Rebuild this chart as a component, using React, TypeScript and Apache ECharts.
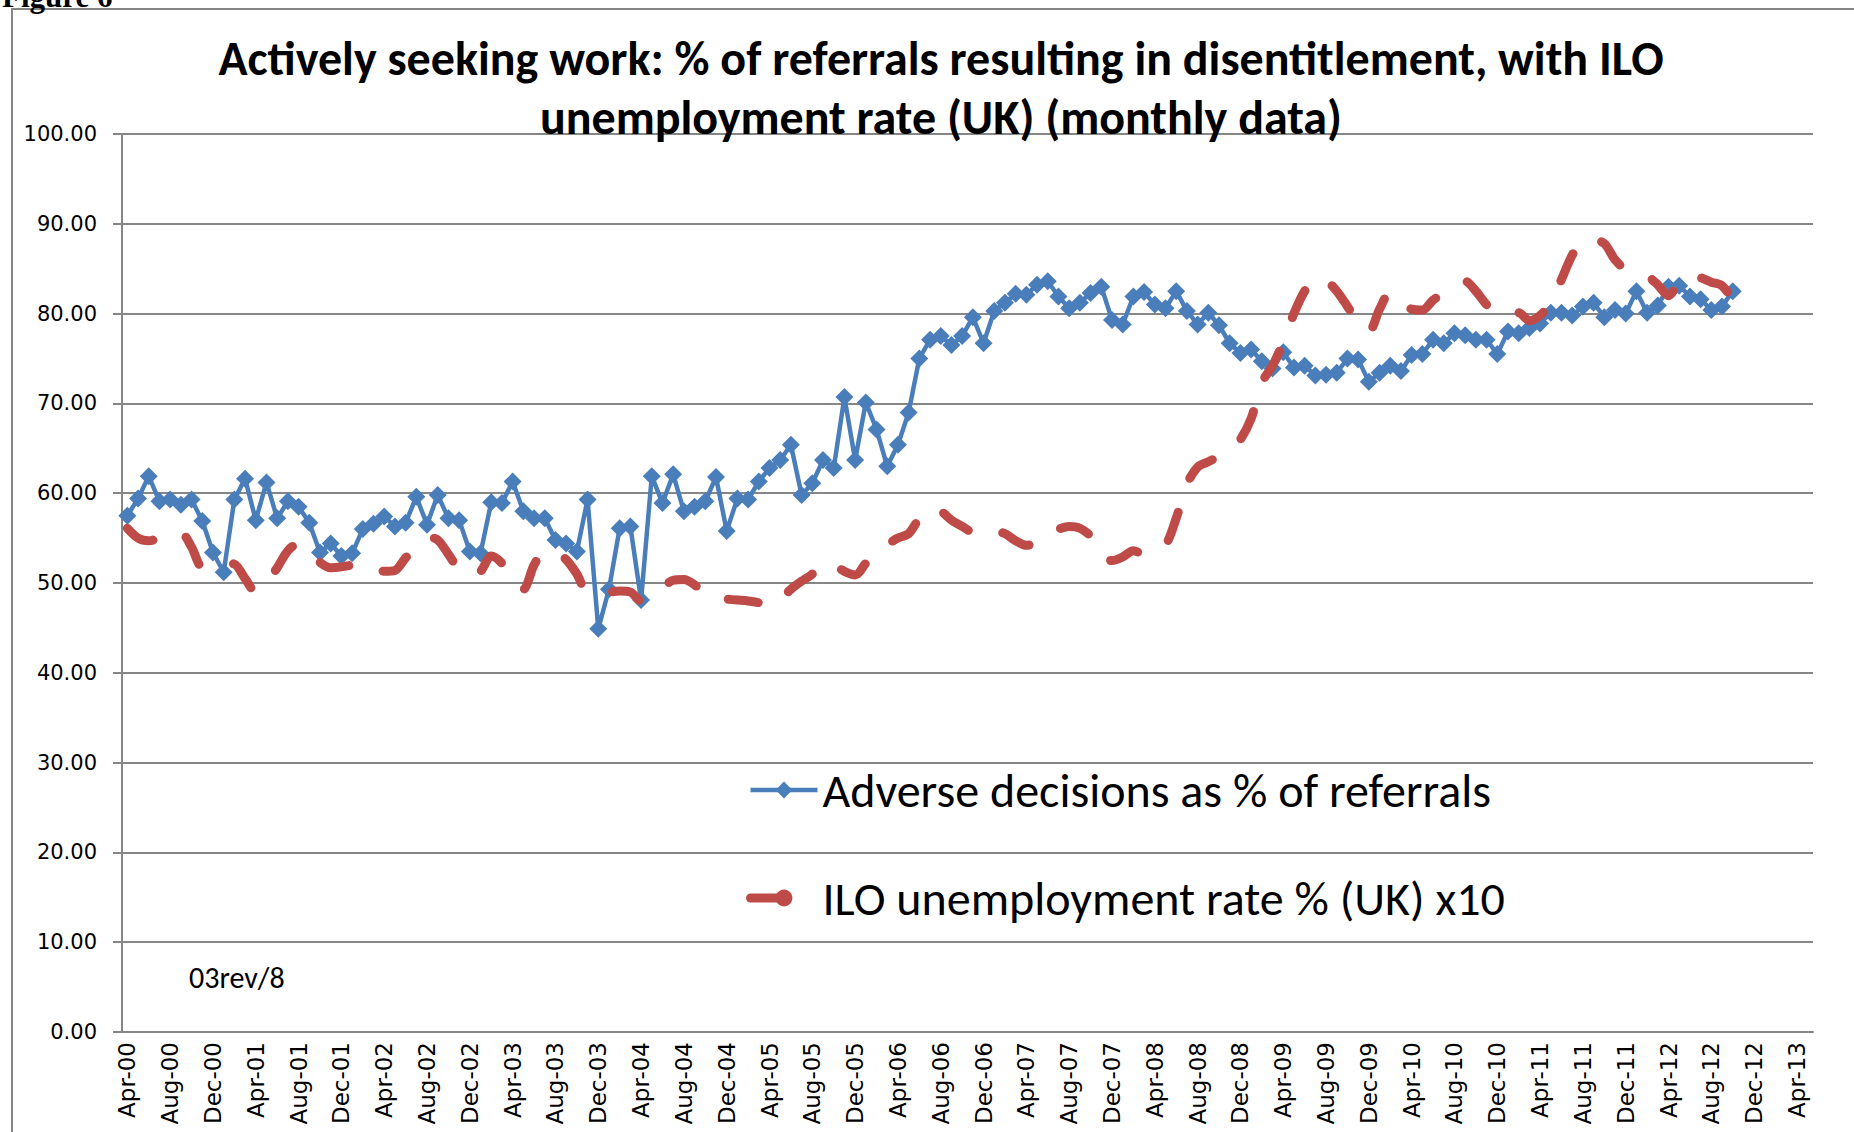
import React, { useEffect, useRef } from "react";
import * as echarts from "echarts";

// ---- Data ----
const MONTH_NAMES = ["Jan", "Feb", "Mar", "Apr", "May", "Jun", "Jul", "Aug", "Sep", "Oct", "Nov", "Dec"];
const CATEGORY_COUNT = 158; // Apr-00 .. May-13
const categories: string[] = [];
for (let k = 0; k < CATEGORY_COUNT; k++) {
  const m = (3 + k) % 12;
  const y = Math.floor((3 + k) / 12);
  categories.push(`${MONTH_NAMES[m]}-${String(y).padStart(2, "0")}`);
}

// Adverse decisions as % of referrals, Apr-00 .. Oct-12
const adverse2000_01 = [57.5, 59.4, 61.9, 59.1, 59.3, 58.7, 59.3, 56.9, 53.4, 51.2, 59.3, 61.6];
const adverse2001_02 = [57.0, 61.2, 57.2, 59.1, 58.5, 56.7, 53.4, 54.4, 53.0, 53.3, 56.0, 56.6];
const adverse2002_03 = [57.4, 56.3, 56.7, 59.6, 56.5, 59.8, 57.2, 57.0, 53.5, 53.3, 59.0, 58.9];
const adverse2003_04 = [61.3, 58.0, 57.2, 57.2, 54.8, 54.4, 53.5, 59.3, 44.9, 49.3, 56.1, 56.3];
const adverse2004_05 = [48.1, 61.9, 58.9, 62.1, 58.0, 58.5, 59.1, 61.8, 55.8, 59.4, 59.3, 61.3];
const adverse2005_06 = [62.8, 63.7, 65.4, 59.8, 61.1, 63.7, 62.8, 70.7, 63.7, 70.1, 67.1, 63.0];
const adverse2006_07 = [65.4, 69.0, 75.0, 77.1, 77.5, 76.5, 77.5, 79.6, 76.7, 80.3, 81.2, 82.2];
const adverse2007_08 = [82.1, 83.2, 83.6, 81.9, 80.6, 81.2, 82.3, 83.0, 79.3, 78.8, 81.9, 82.4];
const adverse2008_09 = [81.0, 80.6, 82.5, 80.3, 78.8, 80.1, 78.7, 76.7, 75.6, 76.0, 74.7, 73.9];
const adverse2009_10 = [75.7, 74.0, 74.2, 73.1, 73.2, 73.4, 75.0, 74.9, 72.4, 73.4, 74.2, 73.6];
const adverse2010_11 = [75.4, 75.5, 77.1, 76.7, 77.8, 77.6, 77.1, 77.1, 75.5, 78.0, 77.8, 78.4];
const adverse2011_12 = [78.9, 80.1, 80.1, 79.8, 80.8, 81.2, 79.6, 80.4, 80.0, 82.5, 80.1, 80.9];
const adverse2012 = [83.0, 83.1, 81.9, 81.6, 80.4, 80.8, 82.5];

// ILO unemployment rate % (UK) x10, Apr-00 .. Nov-12
const ilo2000_01 = [56.1, 55.0, 54.7, 55.0, 55.4, 55.6, 54.0, 51.8, 51.8, 52.2, 52.1, 50.5];
const ilo2001_02 = [49.0, 50.0, 51.7, 53.6, 54.4, 53.5, 52.3, 51.7, 51.8, 52.0, 52.2, 51.8];
const ilo2002_03 = [51.3, 51.4, 52.8, 54.0, 55.1, 54.8, 53.2, 51.5, 50.8, 51.3, 53.0, 52.2];
const ilo2003_04 = [50.5, 49.3, 52.0, 53.5, 53.5, 52.6, 51.0, 49.0, 49.0, 49.0, 49.1, 49.0];
const ilo2004_05 = [48.0, 48.5, 49.5, 50.3, 50.4, 49.8, 48.7, 48.3, 48.2, 48.1, 48.0, 47.8];
const ilo2005_06 = [47.4, 48.2, 49.3, 50.2, 51.0, 52.3, 52.0, 51.3, 50.9, 52.2, 53.5, 54.3];
const ilo2006_07 = [55.0, 55.5, 57.2, 58.3, 58.0, 57.0, 56.3, 55.6, 55.3, 55.7, 55.5, 54.7];
const ilo2007_08 = [54.2, 54.5, 55.5, 56.0, 56.3, 56.1, 55.2, 53.0, 52.5, 52.9, 53.6, 53.2];
const ilo2008_09 = [53.5, 54.2, 57.2, 61.0, 62.9, 63.5, 64.1, 64.8, 66.0, 68.3, 72.3, 74.2];
const ilo2009_10 = [76.8, 80.0, 82.5, 84.0, 83.7, 82.5, 80.8, 79.0, 78.0, 80.5, 82.4, 81.3];
const ilo2010_11 = [80.5, 80.4, 81.5, 82.3, 83.0, 83.6, 82.5, 81.0, 80.0, 80.0, 80.1, 79.2];
const ilo2011_12 = [79.8, 81.2, 83.8, 86.5, 88.2, 88.2, 87.8, 86.0, 84.9, 84.5, 84.2, 83.2];
const ilo2012 = [82.0, 83.5, 84.3, 84.0, 83.5, 83.1, 81.5, 79.2];

const adverseDecisions = [
  ...adverse2000_01, ...adverse2001_02, ...adverse2002_03, ...adverse2003_04,
  ...adverse2004_05, ...adverse2005_06, ...adverse2006_07, ...adverse2007_08,
  ...adverse2008_09, ...adverse2009_10, ...adverse2010_11, ...adverse2011_12, ...adverse2012,
];
const iloRateX10 = [
  ...ilo2000_01, ...ilo2001_02, ...ilo2002_03, ...ilo2003_04,
  ...ilo2004_05, ...ilo2005_06, ...ilo2006_07, ...ilo2007_08,
  ...ilo2008_09, ...ilo2009_10, ...ilo2010_11, ...ilo2011_12, ...ilo2012,
];

const SERIES_BLUE = "Adverse decisions as % of referrals";
const SERIES_RED = "ILO unemployment rate % (UK) x10";
const TITLE =
  "Actively seeking work: % of referrals resulting in disentitlement, with ILO\nunemployment rate (UK) (monthly data)";

const BLUE = "#4A7EBB";
const RED = "#BE4B48";
const GRID = "#868686";
const CAL = "Carlito, Calibri, Lato, sans-serif";
const AXISFONT = "'DejaVu Sans', Verdana, sans-serif";

export default function App() {
  const ref = useRef<HTMLDivElement>(null);

  useEffect(() => {
    if (!ref.current) return;
    const chart = echarts.init(ref.current, undefined, { renderer: "svg" });
    chart.setOption({
      animation: false,
      backgroundColor: "#ffffff",
      title: {
        text: TITLE,
        left: 941,
        textAlign: "center",
        top: 29,
        padding: 0,
        textStyle: {
          fontFamily: CAL,
          fontWeight: "bold",
          fontSize: 48,
          lineHeight: 59,
          color: "#000",
        },
      },
      grid: { left: 122, right: 41, top: 134, bottom: 100, containLabel: false },
      legend: {
        orient: "vertical",
        left: 746,
        top: 766,
        itemWidth: 67,
        itemHeight: 21,
        itemGap: 60,
        padding: 0,
        textStyle: { fontFamily: CAL, fontSize: 48, lineHeight: 48, color: "#000" },
        data: [
          { name: SERIES_BLUE, lineStyle: { width: 4.5, color: BLUE } },
          {
            name: SERIES_RED,
            lineStyle: { type: [33, 300], cap: "round", width: 9, color: RED },
          },
        ],
      },
      xAxis: {
        type: "category",
        data: categories,
        boundaryGap: true,
        axisLine: { lineStyle: { color: GRID, width: 2 } },
        axisTick: { interval: 3, length: 9, lineStyle: { color: GRID, width: 2 } },
        axisLabel: {
          interval: 3,
          rotate: 90,
          margin: 10,
          fontFamily: AXISFONT,
          fontSize: 23,
          color: "#000",
        },
        splitLine: { show: false },
      },
      yAxis: {
        type: "value",
        min: 0,
        max: 100,
        interval: 10,
        axisLine: { show: true, lineStyle: { color: GRID, width: 2 } },
        axisTick: { show: true, length: 9, lineStyle: { color: GRID, width: 2 } },
        axisLabel: {
          margin: 25,
          fontFamily: AXISFONT,
          fontSize: 21,
          color: "#000",
          formatter: (v: number) => v.toFixed(2),
        },
        splitLine: { lineStyle: { color: GRID, width: 2 } },
      },
      series: [
        {
          name: SERIES_BLUE,
          type: "line",
          data: adverseDecisions,
          symbol: "diamond",
          symbolSize: 18,
          showAllSymbol: true,
          lineStyle: { color: BLUE, width: 4.5 },
          itemStyle: { color: BLUE },
          z: 2,
        },
        {
          name: SERIES_RED,
          type: "line",
          data: iloRateX10,
          symbol: "none",
          smooth: 0.3,
          lineStyle: { color: RED, width: 9, type: [30, 36], cap: "round" },
          itemStyle: { color: RED },
          z: 3,
        },
      ],
      graphic: [
        {
          type: "rect",
          x: 12,
          y: 9,
          shape: { width: 1900, height: 1200 },
          style: { fill: "none", stroke: GRID, lineWidth: 2 },
          silent: true,
          z: -10,
        },
        {
          type: "text",
          x: 2,
          y: 12,
          style: {
            text: "Figure 6",
            fontFamily: "'Liberation Serif', serif",
            fontWeight: "bold",
            fontSize: 31,
            fill: "#000",
            verticalAlign: "bottom",
          },
        },
        {
          type: "text",
          x: 189,
          y: 977,
          style: {
            text: "03rev/8",
            fontFamily: CAL,
            fontSize: 30,
            fill: "#000",
            verticalAlign: "middle",
          },
        },
      ],
    });
    return () => chart.dispose();
  }, []);

  return (
    <div
      ref={ref}
      style={{ position: "fixed", left: 0, top: 0, width: 1854, height: 1132, background: "#fff" }}
    />
  );
}
